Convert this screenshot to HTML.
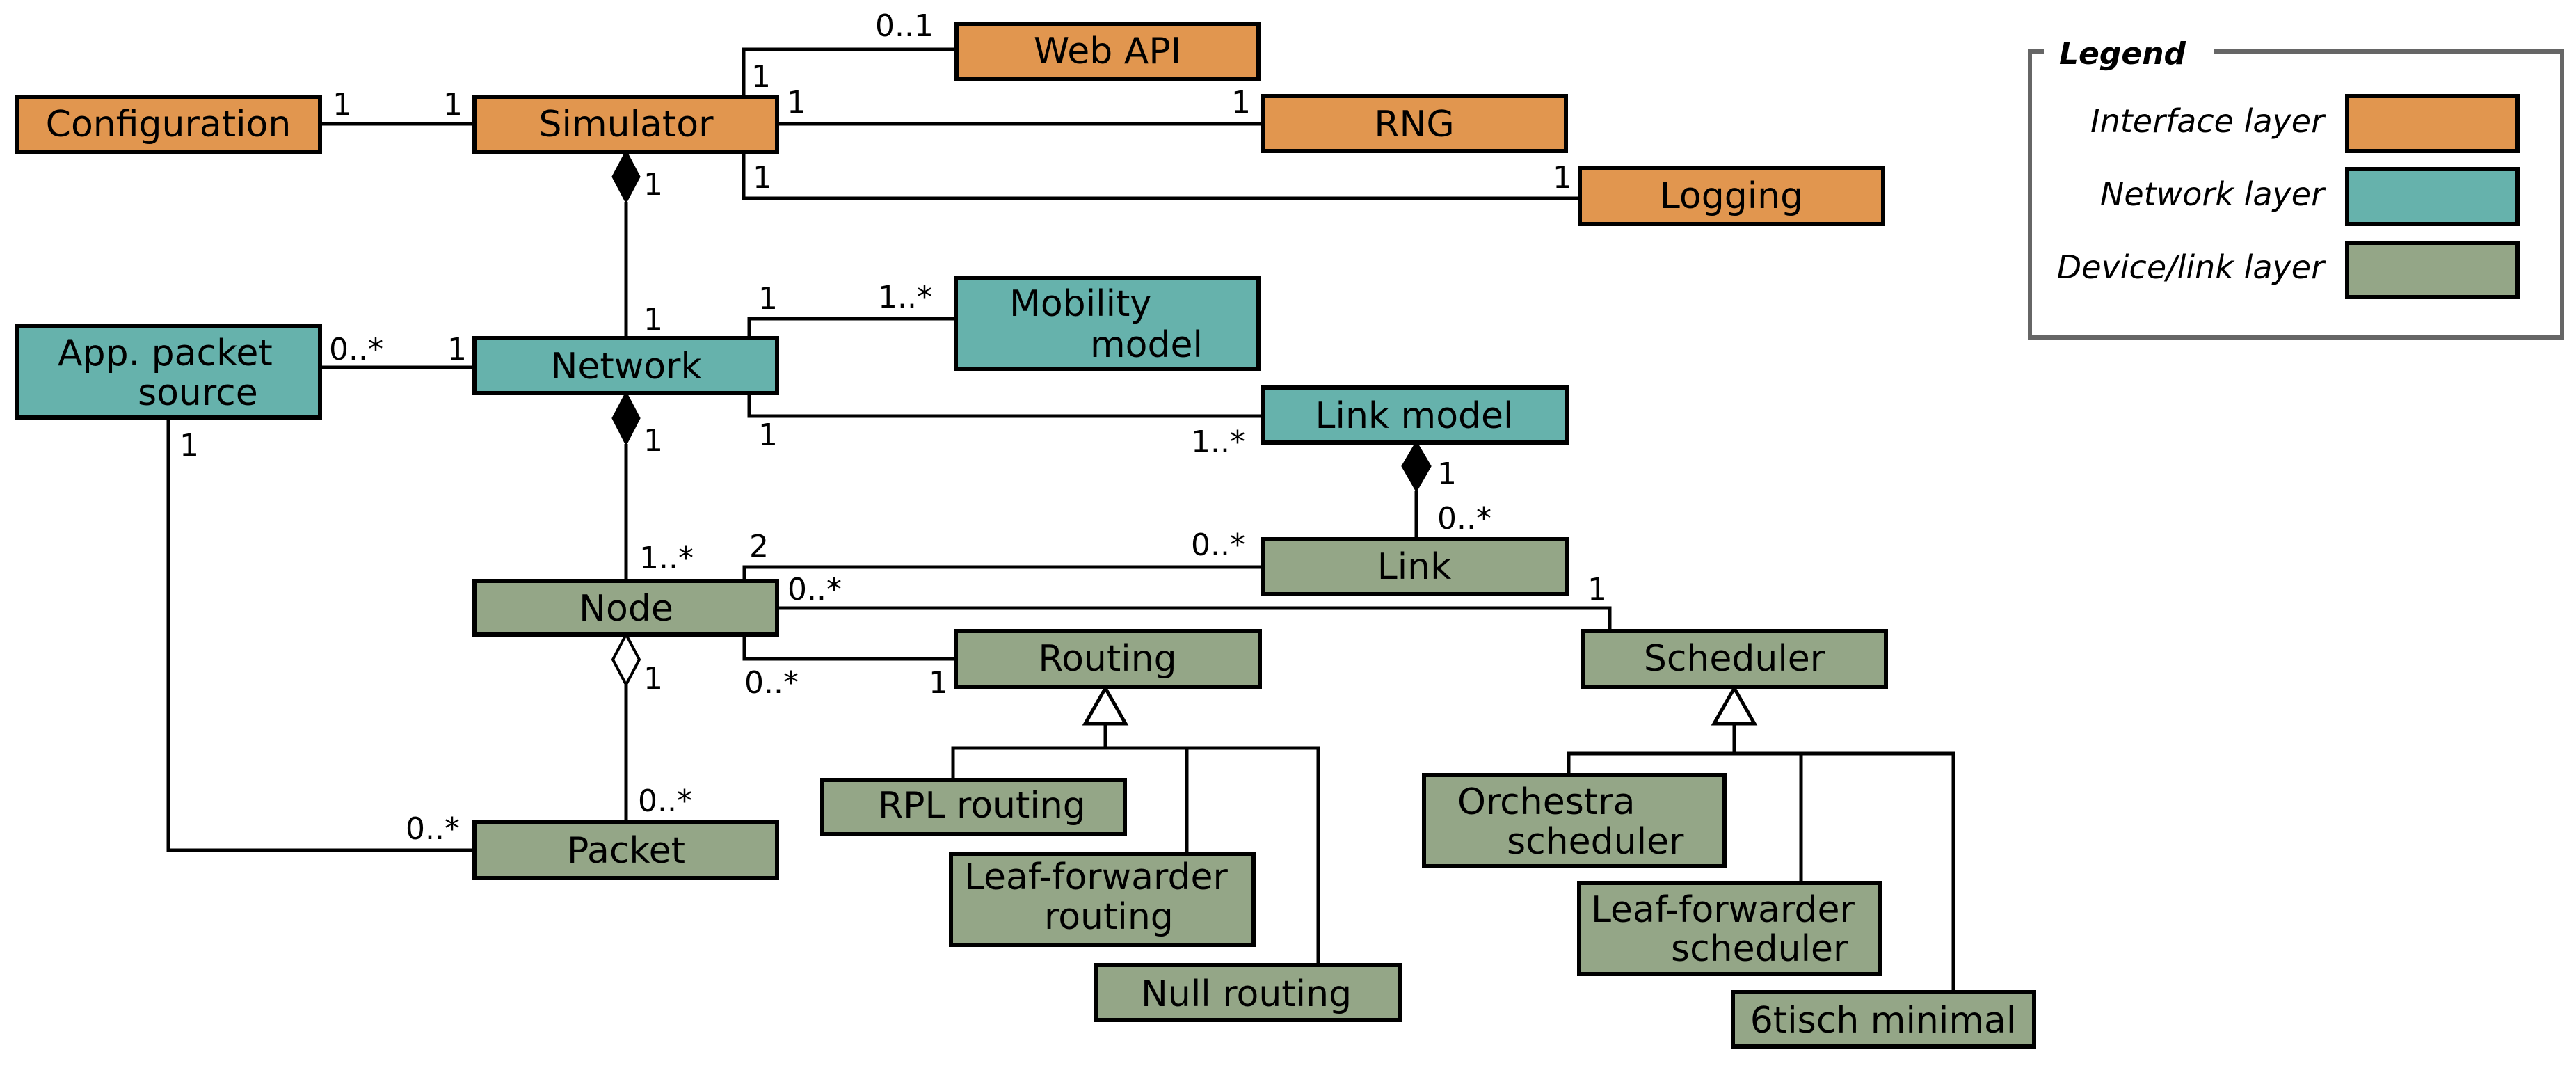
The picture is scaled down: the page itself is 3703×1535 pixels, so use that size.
<!DOCTYPE html>
<html><head><meta charset="utf-8"><style>
html,body{margin:0;padding:0;background:#fff;}
svg{display:block;}
text{font-family:"DejaVu Sans","Liberation Sans",sans-serif;fill:#000;}
.b{font-size:52px;}
.m{font-size:44px;}
.o{fill:#E1964F;stroke:#000;stroke-width:6;}
.t{fill:#66B2AC;stroke:#000;stroke-width:6;}
.g{fill:#94A687;stroke:#000;stroke-width:6;}
.l{fill:none;stroke:#000;stroke-width:5;}
</style></head><body>
<svg width="3703" height="1535" viewBox="0 0 3703 1535" xmlns="http://www.w3.org/2000/svg">
<!-- connectors -->
<polyline class="l" points="458,178 682,178"/>
<polyline class="l" points="1069,139 1069,71 1375,71"/>
<polyline class="l" points="1117,178 1816,178"/>
<polyline class="l" points="1069,218 1069,285 2271,285"/>
<polyline class="l" points="900,290 900,486"/>
<polyline class="l" points="1077,486 1077,458 1374,458"/>
<polyline class="l" points="460,528 682,528"/>
<polyline class="l" points="1077,565 1077,598 1816,598"/>
<polyline class="l" points="900,638 900,835"/>
<polyline class="l" points="1070,835 1070,815 1816,815"/>
<polyline class="l" points="2036,705 2036,775"/>
<polyline class="l" points="1117,874 2314,874 2314,907"/>
<polyline class="l" points="1070,912 1070,947 1374,947"/>
<polyline class="l" points="900,984 900,1182"/>
<polyline class="l" points="242,600 242,1222 682,1222"/>
<polyline class="l" points="1589,1040 1589,1075"/>
<polyline class="l" points="1370,1121 1370,1075 1895,1075 1895,1387"/>
<polyline class="l" points="1706,1075 1706,1227"/>
<polyline class="l" points="2493,1040 2493,1083"/>
<polyline class="l" points="2255,1114 2255,1083 2808,1083 2808,1426"/>
<polyline class="l" points="2589,1083 2589,1269"/>
<!-- diamonds / triangles -->
<polygon points="900,218 919,254 900,290 881,254" fill="#000" stroke="#000" stroke-width="3"/>
<polygon points="900,565 919,601 900,638 881,601" fill="#000" stroke="#000" stroke-width="3"/>
<polygon points="2036,636 2056,670 2036,705 2016,670" fill="#000" stroke="#000" stroke-width="3"/>
<polygon points="900,912 919,948 900,984 881,948" fill="#fff" stroke="#000" stroke-width="4"/>
<polygon points="1589,989 1618,1040 1560,1040" fill="#fff" stroke="#000" stroke-width="5"/>
<polygon points="2493,989 2522,1040 2464,1040" fill="#fff" stroke="#000" stroke-width="5"/>
<!-- boxes -->
<rect class="o" x="24" y="139" width="436" height="79"/>
<text class="b" x="242" y="196" text-anchor="middle">Configuration</text>
<rect class="o" x="682" y="139" width="435" height="79"/>
<text class="b" x="900" y="196" text-anchor="middle">Simulator</text>
<rect class="o" x="1375" y="34" width="434" height="79"/>
<text class="b" x="1592" y="91" text-anchor="middle">Web API</text>
<rect class="o" x="1816" y="138" width="435" height="79"/>
<text class="b" x="2033" y="196" text-anchor="middle">RNG</text>
<rect class="o" x="2271" y="242" width="436" height="80"/>
<text class="b" x="2489" y="299" text-anchor="middle">Logging</text>

<rect class="t" x="24" y="469" width="436" height="131"/>
<text class="b" x="83" y="525">App. packet</text>
<text class="b" x="198" y="582">source</text>
<rect class="t" x="682" y="486" width="435" height="79"/>
<text class="b" x="900" y="544" text-anchor="middle">Network</text>
<rect class="t" x="1374" y="399" width="435" height="131"/>
<text class="b" x="1451" y="454">Mobility</text>
<text class="b" x="1567" y="513">model</text>
<rect class="t" x="1815" y="557" width="437" height="79"/>
<text class="b" x="2033" y="615" text-anchor="middle">Link model</text>

<rect class="g" x="682" y="835" width="435" height="77"/>
<text class="b" x="900" y="892" text-anchor="middle">Node</text>
<rect class="g" x="1815" y="775" width="437" height="79"/>
<text class="b" x="2033" y="832" text-anchor="middle">Link</text>
<rect class="g" x="1374" y="907" width="437" height="80"/>
<text class="b" x="1592" y="964" text-anchor="middle">Routing</text>
<rect class="g" x="2275" y="907" width="436" height="80"/>
<text class="b" x="2493" y="964" text-anchor="middle">Scheduler</text>
<rect class="g" x="682" y="1182" width="435" height="80"/>
<text class="b" x="900" y="1240" text-anchor="middle">Packet</text>
<rect class="g" x="1182" y="1121" width="435" height="78"/>
<text class="b" x="1262" y="1175">RPL routing</text>
<rect class="g" x="1367" y="1227" width="435" height="131"/>
<text class="b" x="1386" y="1278">Leaf-forwarder</text>
<text class="b" x="1501" y="1335">routing</text>
<rect class="g" x="1576" y="1387" width="436" height="79"/>
<text class="b" x="1640" y="1446">Null routing</text>
<rect class="g" x="2047" y="1114" width="432" height="131"/>
<text class="b" x="2095" y="1170">Orchestra</text>
<text class="b" x="2166" y="1227">scheduler</text>
<rect class="g" x="2270" y="1269" width="432" height="131"/>
<text class="b" x="2287" y="1325">Leaf-forwarder</text>
<text class="b" x="2402" y="1381">scheduler</text>
<rect class="g" x="2491" y="1426" width="433" height="78"/>
<text class="b" x="2707" y="1484" text-anchor="middle">6tisch minimal</text>

<!-- multiplicities -->
<g class="m">
<text x="478" y="165">1</text>
<text x="637" y="165">1</text>
<text x="1258" y="52">0..1</text>
<text x="1080" y="125">1</text>
<text x="1131" y="162">1</text>
<text x="1770" y="162">1</text>
<text x="1082" y="270">1</text>
<text x="2232" y="270">1</text>
<text x="925" y="280">1</text>
<text x="925" y="474">1</text>
<text x="1090" y="444">1</text>
<text x="1262" y="442">1..*</text>
<text x="473" y="517">0..*</text>
<text x="643" y="517">1</text>
<text x="925" y="648">1</text>
<text x="1090" y="640">1</text>
<text x="1712" y="650">1..*</text>
<text x="258" y="655">1</text>
<text x="2066" y="696">1</text>
<text x="2066" y="760">0..*</text>
<text x="919" y="817">1..*</text>
<text x="1077" y="800">2</text>
<text x="1712" y="798">0..*</text>
<text x="1132" y="862">0..*</text>
<text x="2282" y="862">1</text>
<text x="1070" y="996">0..*</text>
<text x="1335" y="996">1</text>
<text x="925" y="990">1</text>
<text x="917" y="1166">0..*</text>
<text x="583" y="1206">0..*</text>
</g>

<!-- legend -->
<polyline points="2938,74 2918,74 2918,485 3683,485 3683,74 3183,74" fill="none" stroke="#666" stroke-width="6"/>
<text x="2960" y="92" style="font-size:44px;font-weight:bold;font-style:italic;">Legend</text>
<text x="3341" y="190" text-anchor="end" style="font-size:46px;font-style:italic;">Interface layer</text>
<text x="3341" y="295" text-anchor="end" style="font-size:46px;font-style:italic;">Network layer</text>
<text x="3341" y="400" text-anchor="end" style="font-size:46px;font-style:italic;">Device/link layer</text>
<rect class="o" x="3374" y="138" width="245" height="79"/>
<rect class="t" x="3374" y="243" width="245" height="79"/>
<rect class="g" x="3374" y="349" width="245" height="78"/>
</svg>
</body></html>
